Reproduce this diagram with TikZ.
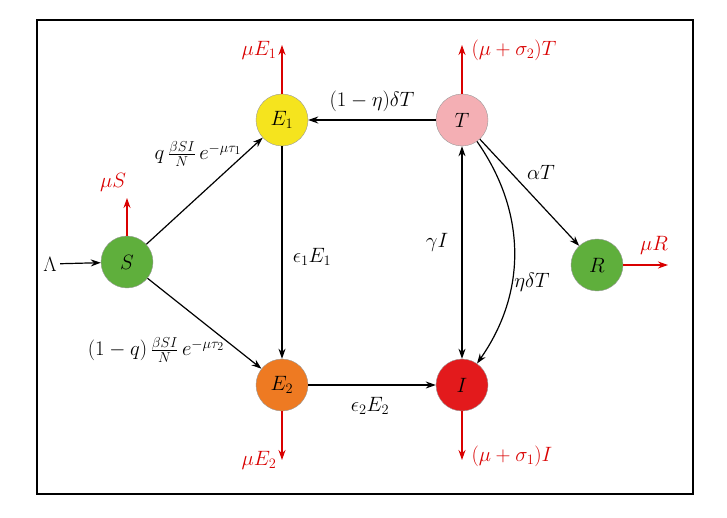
\documentclass[tikz,border=0pt]{standalone}
\usetikzlibrary{arrows.meta}
\begin{document}
\begin{tikzpicture}[x=1pt,y=-1pt,
  st/.style={circle,draw=black!40,minimum size=52pt,inner sep=0pt,font=\huge},
  ar/.style={-{Stealth[length=10pt,width=7pt]},line width=1.2pt},
  rar/.style={-{Stealth[length=10pt,width=7pt]},line width=1.2pt,draw=red!85!black},
  rl/.style={text=red!85!black,font=\huge},
  lb/.style={font=\huge}]
\useasboundingbox (0,0) rectangle (727,518);
\draw[line width=1.4pt] (37,20) rectangle (693,494);
\node[st,fill={rgb,255:red,95;green,175;blue,60}] (S) at (127,262) {$S$};
\node[st,fill={rgb,255:red,245;green,228;blue,30}] (E1) at (282,120) {$E_1$};
\node[st,fill={rgb,255:red,244;green,175;blue,180}] (T) at (462,120) {$T$};
\node[st,fill={rgb,255:red,95;green,175;blue,60}] (R) at (597,265) {$R$};
\node[st,fill={rgb,255:red,238;green,122;blue,34}] (E2) at (282,385) {$E_2$};
\node[st,fill={rgb,255:red,227;green,26;blue,28}] (I) at (462,385) {$I$};
\node[lb] (L) at (50,264) {$\Lambda$};
\coordinate (cS) at (127,198); \coordinate (cE1) at (282,45);
\coordinate (cT) at (462,45); \coordinate (cR) at (668,265);
\coordinate (cE2) at (282,460); \coordinate (cI) at (462,460);
\draw[ar] (L) -- (S);
\draw[rar] (S) -- (cS); \node[rl] at (113,182) {$\mu S$};
\draw[rar] (E1) -- (cE1); \node[rl] at (259,50) {$\mu E_1$};
\draw[rar] (T) -- (cT); \node[rl,anchor=west] at (468,50) {$(\mu+\sigma_2)T$};
\draw[rar] (R) -- (cR); \node[rl] at (654,245) {$\mu R$};
\draw[rar] (E2) -- (cE2); \node[rl] at (259,460) {$\mu E_2$};
\draw[rar] (I) -- (cI); \node[rl,anchor=west] at (468,456) {$(\mu+\sigma_1)I$};
\draw[ar] (S) -- (E1); \node[lb] at (198,154) {$q\,\frac{\beta SI}{N}\,e^{-\mu\tau_1}$};
\draw[ar] (S) -- (E2); \node[lb] at (156,350) {$(1-q)\,\frac{\beta SI}{N}\,e^{-\mu\tau_2}$};
\draw[ar] (E1) -- (E2); \node[lb] at (312,257) {$\epsilon_1E_1$};
\draw[ar] (E2) -- (I); \node[lb] at (370,406) {$\epsilon_2E_2$};
\draw[ar] (T) -- (E1); \node[lb] at (372,101) {$(1-\eta)\delta T$};
\draw[{Stealth[length=10pt,width=7pt]}-{Stealth[length=10pt,width=7pt]},line width=1.2pt] (T) -- (I); \node[lb] at (437,242) {$\gamma I$};
\draw[ar] (T) to[bend left=35] (I); \node[lb] at (532,282) {$\eta\delta T$};
\draw[ar] (T) -- (R); \node[lb] at (541,172) {$\alpha T$};
\end{tikzpicture}
\end{document}
